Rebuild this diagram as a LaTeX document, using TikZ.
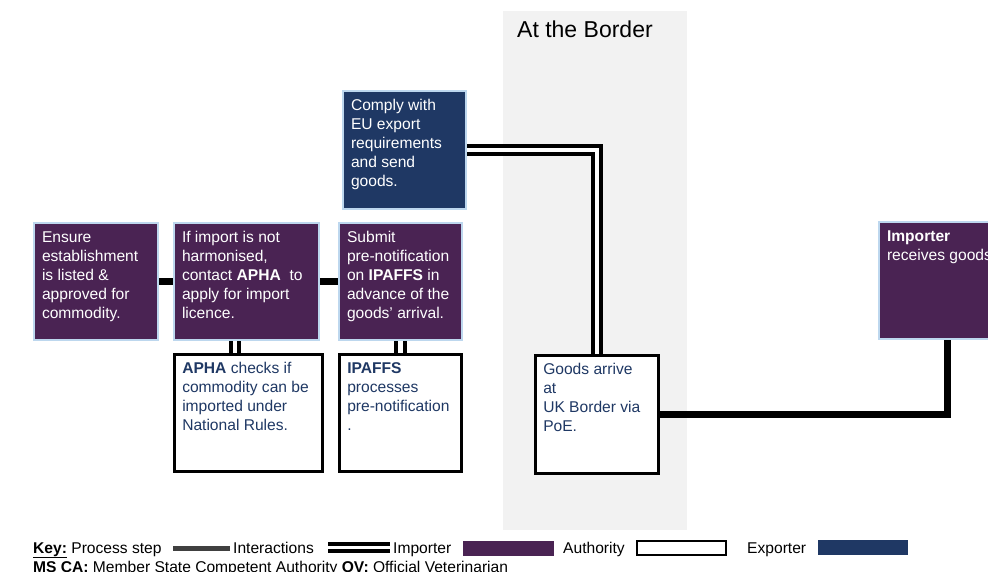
\documentclass[tikz,border=0pt]{standalone}
\usepackage{fontspec}
\setmainfont{Liberation Sans}
\definecolor{impc}{RGB}{74,35,83}
\definecolor{expc}{RGB}{31,56,100}
\definecolor{edgec}{RGB}{189,215,238}
\definecolor{bandc}{RGB}{242,242,242}
\definecolor{authtxt}{RGB}{31,56,100}
\definecolor{keybar}{RGB}{64,64,64}
\newcommand{\boxtxt}[3]{\parbox[t][#2][t]{#1}{\raggedright\strut #3}}
\begin{document}
\begin{tikzpicture}[x=1pt,y=-1pt,
  stepbox/.style={draw, rectangle, anchor=north west, inner xsep=8pt, inner ysep=6pt, font=\fontsize{15.6}{19}\selectfont},
  impbox/.style={stepbox, fill=impc, draw=edgec, line width=2pt, text=white},
  expbox/.style={stepbox, fill=expc, draw=edgec, line width=2pt, text=white},
  authbox/.style={stepbox, fill=white, draw=black, line width=2.5pt, text=authtxt},
  procline/.style={line width=7pt, black},
  dbl/.style={draw=black, double=white, double distance=4.5pt, line width=4pt},
  keytxt/.style={anchor=base west, inner sep=0pt, font=\fontsize{15.6}{18}\selectfont}]
\useasboundingbox (0,0) rectangle (988,571);
\clip (0,0) rectangle (988,571);
\fill[bandc] (503,11) rectangle (687,530);
\node[anchor=base west, inner sep=0pt, font=\fontsize{23}{27}\selectfont] (border) at (517,37) {At the Border};

\node[impbox] (b1) at (33,222) {\boxtxt{108pt}{105pt}{Ensure\\establishment\\is listed \&\\approved for\\commodity.}};
\node[impbox] (b2) at (173,222) {\boxtxt{129pt}{105pt}{If import is not\\harmonised,\\contact \textbf{APHA}\ \ to\\apply for import\\licence.}};
\node[impbox] (b3) at (338,222) {\boxtxt{107pt}{105pt}{Submit\\pre-notification\\on \textbf{IPAFFS} in\\advance of the\\goods' arrival.}};
\node[expbox] (exp) at (342,90) {\boxtxt{107pt}{106pt}{Comply with\\EU export\\requirements\\and send\\goods.}};
\node[authbox] (apha) at (173,353) {\boxtxt{132pt}{105pt}{\textbf{APHA} checks if\\commodity can be\\imported under\\National Rules.}};
\node[authbox] (ipaffs) at (338,353) {\boxtxt{106pt}{105pt}{\textbf{IPAFFS}\\processes\\pre-notification\\.}};
\node[authbox] (goods) at (534,354) {\boxtxt{107pt}{106pt}{Goods arrive\\at\\UK Border via\\PoE.}};
\node[impbox] (impr) at (878,221) {\boxtxt{120pt}{105pt}{\textbf{Importer}\\receives goods.}};

\coordinate (xa) at (235,0);
\draw[procline] (b1.east) -- (b2.west);
\draw[procline] (b2.east) -- (b3.west);
\draw[dbl] (b2.south -| xa) -- (apha.north -| xa);
\draw[dbl] (b3.south) -- (b3.south |- ipaffs.north);
\draw[dbl] (exp.east) -| (goods.north);
\draw[procline] (goods.east) -| (impr.south);

% key
\node[keytxt] (k1) at (33,553) {\underline{\textbf{Key:}} Process step};
\fill[keybar] (173,545.5) rectangle (230,551);
\node[keytxt] (k2) at (233,553) {Interactions};
\coordinate (ka) at (328,547.5);
\coordinate (kb) at (390,547.5);
\draw[dbl, double distance=3.5pt] (ka) -- (kb);
\node[keytxt] (k3) at (393,553) {Importer};
\fill[impc] (463,541) rectangle (554,556);
\node[keytxt] (k4) at (563,553) {Authority};
\draw[black, line width=2pt, fill=white] (637,541) rectangle (726,555);
\node[keytxt] (k5) at (747,553) {Exporter};
\fill[expc] (818,540) rectangle (908,555);
\node[keytxt] (k6) at (33,572) {\textbf{MS CA:} Member State Competent Authority \textbf{OV:} Official Veterinarian};
\end{tikzpicture}
\end{document}
